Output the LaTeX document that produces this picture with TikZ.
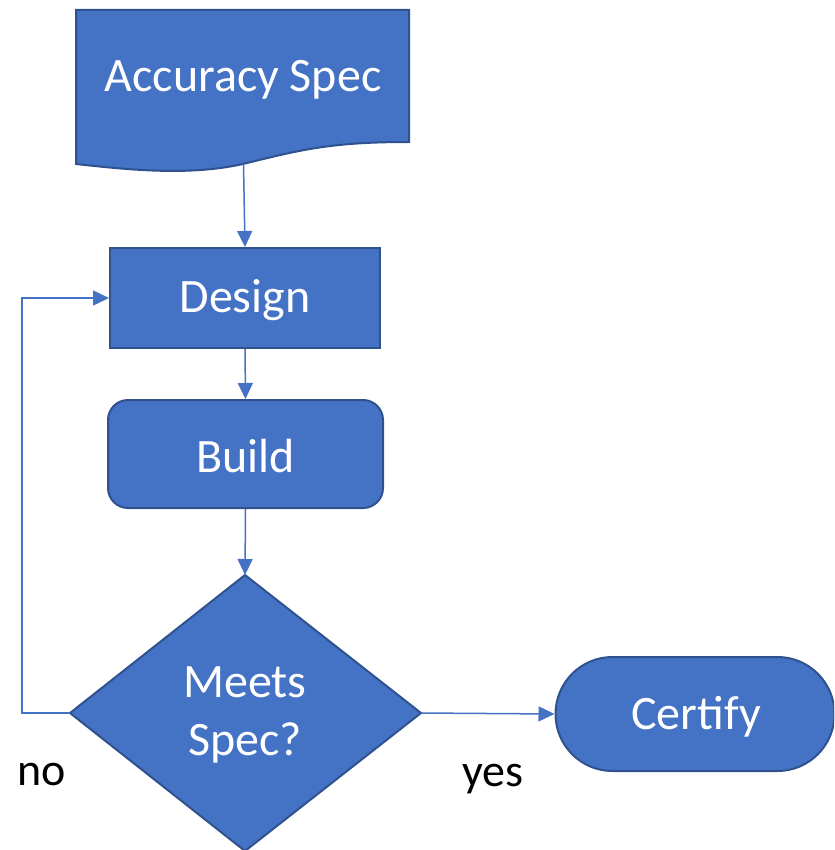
\documentclass[tikz,border=0pt]{standalone}
\usepackage{fontspec}
\setmainfont{Carlito}
\usetikzlibrary{arrows.meta,shapes.geometric}
\definecolor{boxfill}{HTML}{4472C4}
\definecolor{boxline}{HTML}{2F528F}
\tikzset{
  box/.style={fill=boxfill, draw=boxline, line width=2pt},
  boxtext/.style={text=white, font=\fontsize{48}{58}\selectfont, align=center, inner sep=0pt},
  lbl/.style={text=black, font=\fontsize{46}{54}\selectfont, inner sep=0pt},
  conn/.style={draw=boxfill, line width=1.5pt, -{Triangle[length=16pt,width=15pt]}},
}
\begin{document}
\begin{tikzpicture}[x=1pt,y=-1pt]
\useasboundingbox (0,0) rectangle (834,850);
\clip (0,0) rectangle (834,850);
% document shape
\draw[box] (76,10) -- (409,10) -- (409,142)
  .. controls (330,142) and (300,150) .. (243,164)
  .. controls (190,176) and (130,170) .. (76,164) -- cycle;
\coordinate (docb) at (243.5,164);
\node[boxtext] (spec) at (243,80) {Accuracy Spec};
% design
\node[box, minimum width=270pt, minimum height=100pt, inner sep=0pt] (design) at (245,298) {};
\node[boxtext] at (245,300) {Design};
% build
\node[box, rounded corners=20pt, minimum width=275pt, minimum height=108pt, inner sep=0pt] (build) at (245.5,454) {};
\node[boxtext] at (245.5,456) {Build};
% diamond
\draw[box] (245,575) coordinate (dtop) -- (421,713) coordinate (dright) -- (245,851) -- (70,713) coordinate (dleft) -- cycle;
\node[boxtext] (meets) at (245,715) {Meets\\Spec?};
% certify
\node[box, rounded corners=57pt, minimum width=279pt, minimum height=114pt, inner sep=0pt] (certify) at (695,714) {};
\node[boxtext] at (696,717) {Certify};
% connectors
\draw[conn] (docb) -- (design.north);
\draw[conn] (design.south) -- (build.north);
\draw[conn] (build.south) -- (dtop);
\draw[conn] (dleft) -- (22,713) -- (22,298) -- (design.west);
\draw[conn] (dright) -- (certify.west);
% labels
\node[lbl] (no) at (42,774) {no};
\node[lbl] (yes) at (493,779) {yes};
\end{tikzpicture}
\end{document}
